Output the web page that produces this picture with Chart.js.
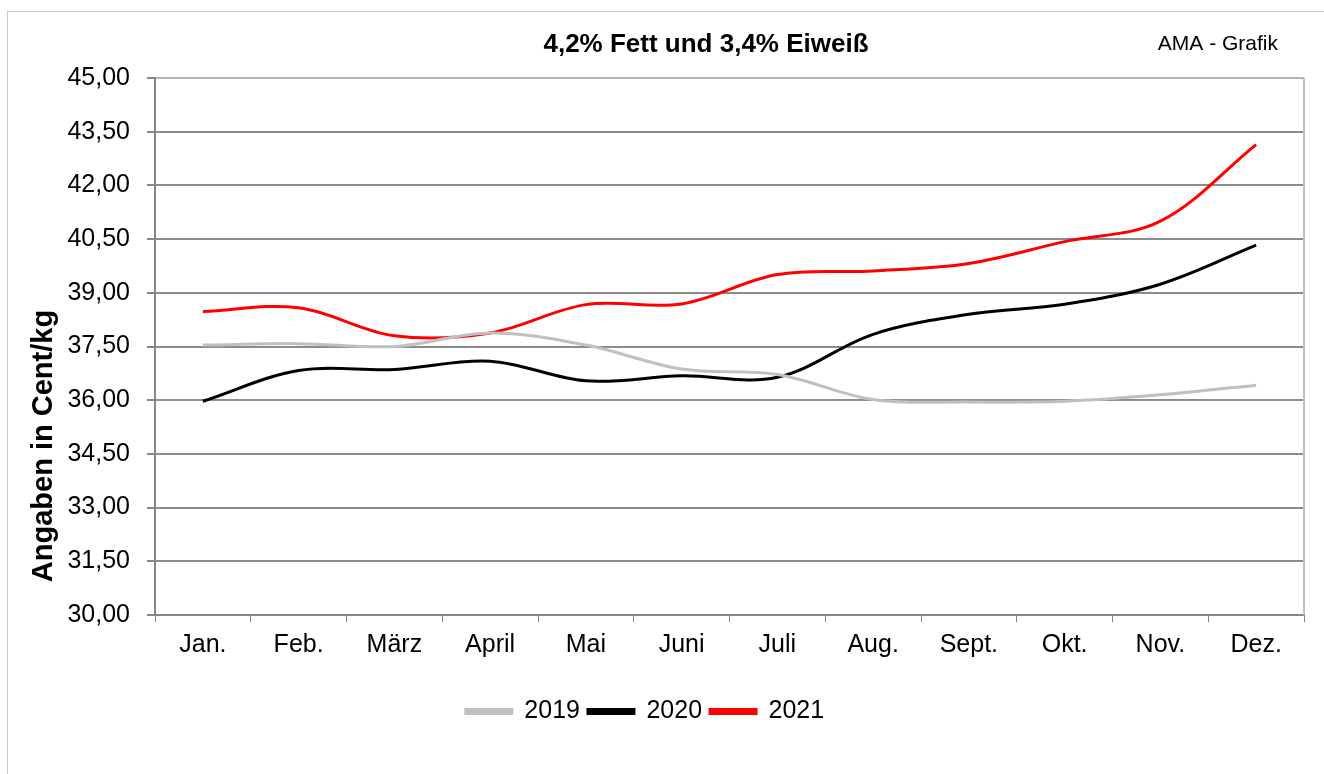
<!DOCTYPE html>
<html>
<head>
<meta charset="utf-8">
<script src="https://cdn.jsdelivr.net/npm/chart.js@4.4.1/dist/chart.umd.min.js"></script>
<style>
  html, body { margin: 0; padding: 0; background: #fff; }
  #wrap { width: 1324px; height: 774px; }
</style>
</head>
<body>
<div id="wrap"><canvas id="chart" width="1324" height="774"></canvas></div>
<script>
const months = ["Jan.", "Feb.", "März", "April", "Mai", "Juni", "Juli", "Aug.", "Sept.", "Okt.", "Nov.", "Dez."];
const y2019 = [37.54, 37.58, 37.50, 37.88, 37.54, 36.87, 36.72, 36.02, 35.95, 35.97, 36.15, 36.42];
const y2020 = [35.97, 36.83, 36.86, 37.09, 36.54, 36.68, 36.64, 37.84, 38.40, 38.68, 39.24, 40.33];
const y2021 = [38.48, 38.58, 37.80, 37.88, 38.67, 38.69, 39.51, 39.61, 39.82, 40.43, 41.00, 43.14];
const yTicks = [30, 31.5, 33, 34.5, 36, 37.5, 39, 40.5, 42, 43.5, 45];

const FONT = "'Liberation Sans', Arial, sans-serif";

// frame, titles and source note
const decor = {
  id: "decor",
  afterLayout(chart) {
    // legend sits a bit left of centre in the original
    chart.legend.left -= 11;
    chart.legend.right -= 11;
  },
  beforeDraw(chart) {
    const ctx = chart.ctx;
    ctx.save();
    ctx.strokeStyle = "#c8c8c8";
    ctx.lineWidth = 1;
    ctx.strokeRect(7.5, 11.5, 1400, 800);
    ctx.restore();
  },
  afterDraw(chart) {
    const ctx = chart.ctx;
    const a = chart.chartArea;
    ctx.save();
    ctx.strokeStyle = "#c0c0c0";
    ctx.lineWidth = 2;
    ctx.beginPath();
    ctx.moveTo(a.right, a.top);
    ctx.lineTo(a.right, a.bottom);
    ctx.stroke();
    ctx.fillStyle = "#000";
    ctx.textBaseline = "middle";
    ctx.textAlign = "center";
    ctx.font = "bold 26px " + FONT;
    ctx.fillText("4,2% Fett und 3,4% Eiweiß", 706, 45);
    ctx.textAlign = "right";
    ctx.font = "21px " + FONT;
    ctx.fillText("AMA - Grafik", 1278, 44);
    // y axis title
    ctx.translate(52, 446);
    ctx.rotate(-Math.PI / 2);
    ctx.textAlign = "center";
    ctx.textBaseline = "alphabetic";
    ctx.font = "bold 29px " + FONT;
    ctx.fillText("Angaben in Cent/kg", 0, 0);
    ctx.restore();
  }
};

function series(label, data, color) {
  return {
    label: label,
    data: data,
    borderColor: color,
    backgroundColor: color,
    borderWidth: 3,
    pointRadius: 0,
    tension: 0.35,
    fill: false
  };
}

new Chart(document.getElementById("chart"), {
  type: "line",
  data: {
    labels: months,
    datasets: [
      series("2019", y2019, "#c0c0c0"),
      series("2020", y2020, "#000000"),
      series("2021", y2021, "#ff0000")
    ]
  },
  options: {
    responsive: false,
    animation: false,
    layout: { padding: { left: 8, right: 20, top: 78, bottom: 40 } },
    plugins: {
      tooltip: { enabled: false },
      legend: {
        position: "bottom",
        labels: {
          font: { family: FONT, size: 25 },
          color: "#000",
          boxWidth: 46,
          boxHeight: 4,
          padding: 8
        }
      }
    },
    scales: {
      x: {
        offset: true,
        grid: { offset: true, drawOnChartArea: false, tickLength: 7, tickColor: "#868686" },
        border: { color: "#868686", width: 2 },
        ticks: { font: { family: FONT, size: 25 }, color: "#000", padding: 8, maxRotation: 0 },
        afterFit(scale) { scale.height = 76; }
      },
      y: {
        min: 30,
        max: 45,
        afterBuildTicks(scale) { scale.ticks = yTicks.map(v => ({ value: v })); },
        grid: {
          color: ctx => ctx.tick && ctx.tick.value === 45 ? "#b4b4b4" : "#8c8c8c",
          lineWidth: 2,
          tickLength: 8,
          tickColor: "#868686"
        },
        border: { color: "#868686", width: 2 },
        ticks: {
          font: { family: FONT, size: 25 },
          color: "#000",
          padding: 17,
          callback: v => Number(v).toFixed(2).replace(".", ",")
        },
        afterFit(scale) { scale.width = 147; }
      }
    }
  },
  plugins: [decor]
});
</script>
</body>
</html>
